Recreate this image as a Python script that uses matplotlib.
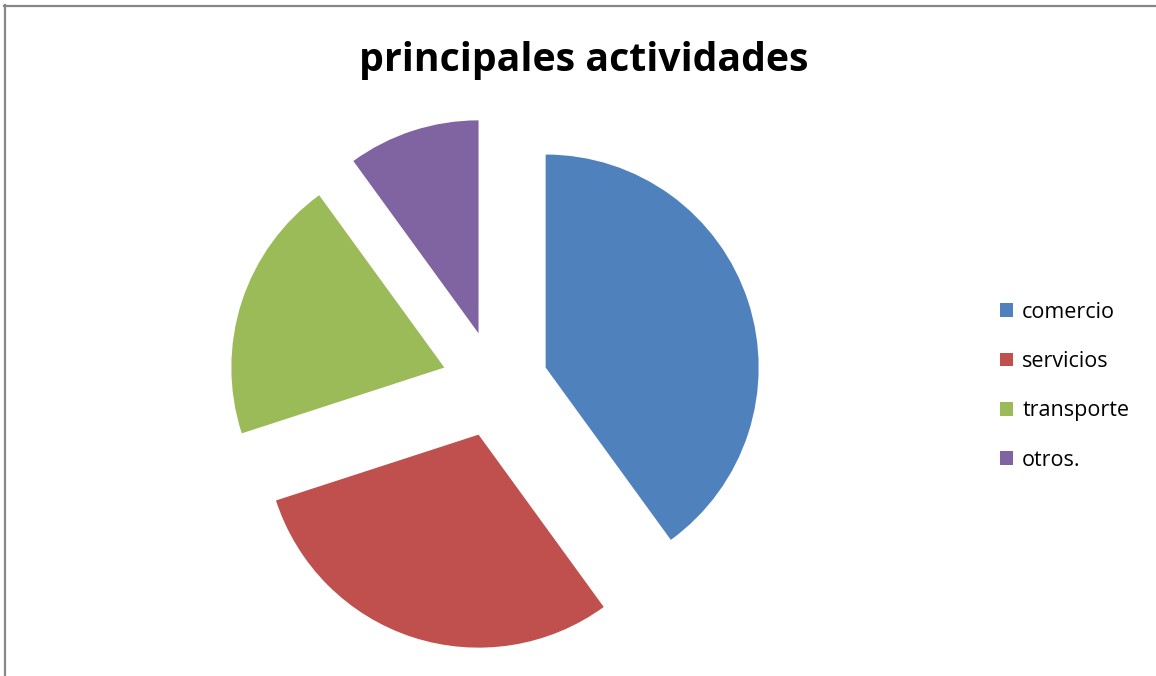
import matplotlib.pyplot as plt
from matplotlib.patches import Patch
from matplotlib.lines import Line2D

categories = ['comercio', 'servicios', 'transporte', 'otros.']
values = [40, 30, 20, 10]
colors = ['#4F81BD', '#C0504D', '#9BBB59', '#8064A2']
explode = [0.25, 0.25, 0.25, 0.25]

W, H = 1156, 676
fig = plt.figure(figsize=(W / 100, H / 100), dpi=100)

# pie centre and radius in pixels
cx, cy, r = 495, 676 - 384, 213
half = 1.36
ax = fig.add_axes([(cx - half * r) / W, (cy - half * r) / H,
                   2 * half * r / W, 2 * half * r / H])
ax.pie(values, colors=colors, explode=explode, startangle=90,
       counterclock=False, radius=1.0)
ax.set_xlim(-half, half)
ax.set_ylim(-half, half)
ax.set_aspect('equal')
ax.axis('off')

fig.text(584 / W, 1 - 60 / H, 'principales actividades', ha='center', va='center',
         fontsize=28.3, fontweight='bold', family='Open Sans')

handles = [Patch(facecolor=c, edgecolor='none') for c in colors]
fig.legend(handles, categories, loc='upper left',
           bbox_to_anchor=(991 / W, 1 - 293 / H), frameon=False,
           prop={'family': 'Open Sans', 'size': 15.5},
           handlelength=0.6, handleheight=0.6, handletextpad=0.45,
           labelspacing=1.32, borderaxespad=0)

# chart border (only top and left visible in the crop)
fig.add_artist(Line2D([4 / W, 1], [1 - 5.5 / H, 1 - 5.5 / H], color='#868686', lw=1.6,
                      transform=fig.transFigure))
fig.add_artist(Line2D([5 / W, 5 / W], [0, 1 - 5 / H], color='#868686', lw=1.6,
                      transform=fig.transFigure))

fig.savefig('out.png', dpi=100)
